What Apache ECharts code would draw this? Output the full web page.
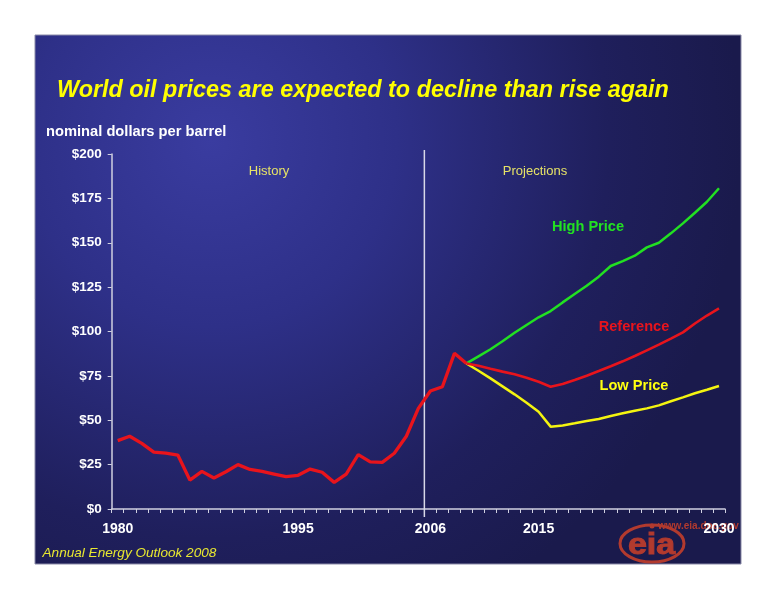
<!DOCTYPE html>
<html>
<head>
<meta charset="utf-8">
<script src="https://cdn.jsdelivr.net/npm/echarts@6/dist/echarts.min.js"></script>
<style>
html,body{margin:0;padding:0;background:#ffffff;}
#chart{width:776px;height:600px;}
</style>
</head>
<body>
<div id="chart"></div>
<script>
const years = ['1980','1981','1982','1983','1984','1985','1986','1987','1988','1989',
  '1990','1991','1992','1993','1994','1995','1996','1997','1998','1999',
  '2000','2001','2002','2003','2004','2005','2006','2007','2008','2009',
  '2010','2011','2012','2013','2014','2015','2016','2017','2018','2019',
  '2020','2021','2022','2023','2024','2025','2026','2027','2028','2029','2030'];
const shownLabels = ['1980','1995','2006','2015','2030'];
// History 1980-2009
const history = [38.5, 41, 37, 32, 31.5, 30.4, 16.3, 21.2, 17.5, 21, 25, 22.3, 21.2, 19.7, 18.2, 19,
  22.5, 20.7, 15, 19.7, 30.6, 26.5, 26.3, 31.4, 41, 56.7, 66.5, 68.9, 87.7, 82];
// Projections 2009-2030
const reference = [82, 80.7, 79, 77.4, 75.9, 74, 71.7, 68.9, 70.4, 72.7, 75.1, 77.7, 80.4, 83.2,
  86.2, 89.4, 92.6, 96, 99.5, 104.5, 109, 113];
const highPrice = [82, 86, 90, 94.5, 99.3, 103.7, 108, 111.5, 116.4, 121.1, 125.8, 130.9, 136.9,
  139.7, 142.7, 147.4, 150, 155.3, 160.9, 166.9, 173.1, 180.7];
const lowPrice = [82, 77.9, 73.6, 69.1, 64.6, 59.9, 54.8, 46.4, 47.1, 48.3, 49.6, 50.7, 52.4,
  53.9, 55.4, 56.7, 58.4, 60.7, 62.9, 65.2, 67.2, 69.3];
const projStart = '2009';

function alignHist(arr) {
  return years.map((y, i) => i < arr.length ? arr[i] : null);
}
function alignProj(arr) {
  const s = years.indexOf(projStart);
  return years.map((y, i) => (i >= s && i - s < arr.length) ? arr[i - s] : null);
}

const chart = echarts.init(document.getElementById('chart'), null, {renderer: 'canvas'});
const FONT = '"Liberation Sans", Arial, sans-serif';
const LOGO = '#b23a2e';
const option = {
  animation: false,
  backgroundColor: '#ffffff',
  textStyle: {fontFamily: FONT},
  grid: {left: 111.7, right: 51, top: 154, bottom: 91, containLabel: false},
  graphic: [
    {id: 'bg', type: 'rect', z: -10, shape: {x: 35, y: 35, width: 706, height: 529},
      style: {
        fill: new echarts.graphic.RadialGradient(0.25, 0.2, 1.0, [
          {offset: 0, color: '#3a3ca0'},
          {offset: 0.35, color: '#2e3088'},
          {offset: 0.75, color: '#1f1f5c'},
          {offset: 1, color: '#1a1a4c'}
        ]),
        stroke: '#8a8aa8', lineWidth: 1
      }},
    {id: 'title', type: 'text', x: 57, y: 91, z: 5,
      style: {text: 'World oil prices are expected to decline than rise again', fill: '#ffff00',
        font: 'italic bold 23.4px ' + FONT, verticalAlign: 'middle'}},
    {id: 'ylab', type: 'text', x: 46, y: 132, z: 5,
      style: {text: 'nominal dollars per barrel', fill: '#ffffff', font: 'bold 14.7px ' + FONT, verticalAlign: 'middle'}},
    {id: 'hist', type: 'text', x: 269, y: 171, z: 5,
      style: {text: 'History', fill: '#e6e266', font: '13px ' + FONT, align: 'center', verticalAlign: 'middle'}},
    {id: 'proj', type: 'text', x: 535, y: 171, z: 5,
      style: {text: 'Projections', fill: '#e6e266', font: '13px ' + FONT, align: 'center', verticalAlign: 'middle'}},
    {id: 'lhigh', type: 'text', x: 588, y: 227, z: 5,
      style: {text: 'High Price', fill: '#22e022', font: 'bold 14.6px ' + FONT, align: 'center', verticalAlign: 'middle'}},
    {id: 'lref', type: 'text', x: 634, y: 326.5, z: 5,
      style: {text: 'Reference', fill: '#e8141c', font: 'bold 14.6px ' + FONT, align: 'center', verticalAlign: 'middle'}},
    {id: 'llow', type: 'text', x: 634, y: 386, z: 5,
      style: {text: 'Low Price', fill: '#ffff10', font: 'bold 14.6px ' + FONT, align: 'center', verticalAlign: 'middle'}},
    {id: 'aeo', type: 'text', x: 42.5, y: 553, z: 5,
      style: {text: 'Annual Energy Outlook 2008', fill: '#e8e830', font: 'italic 13.6px ' + FONT, verticalAlign: 'middle'}},
    {id: 'logoRing', type: 'ellipse', z: -5, shape: {cx: 652, cy: 543.5, rx: 32, ry: 18.5},
      style: {fill: 'none', stroke: LOGO, lineWidth: 3}},
    {id: 'logoText', type: 'text', x: 651.5, y: 545.5, z: -5, scaleX: 1.17, scaleY: 1,
      style: {text: 'eia', fill: LOGO, stroke: LOGO, lineWidth: 1, font: 'bold 29px ' + FONT,
        align: 'center', verticalAlign: 'middle'}},
    {id: 'logoDot', type: 'circle', z: -5, shape: {cx: 652, cy: 526, r: 2.5}, style: {fill: LOGO}},
    {id: 'logoUrl', type: 'text', x: 658, y: 526.5, z: -5,
      style: {text: 'www.eia.doe.gov', fill: LOGO, font: 'bold 10px ' + FONT, verticalAlign: 'middle'}}
  ],
  xAxis: {
    type: 'category',
    data: years,
    boundaryGap: true,
    axisLine: {lineStyle: {color: '#d0d0e0', width: 1.5}},
    axisTick: {show: true, interval: 0, length: 4, lineStyle: {color: '#d0d0e0', width: 1}},
    axisLabel: {
      interval: (idx, val) => shownLabels.indexOf(val) >= 0,
      color: '#ffffff', fontWeight: 'bold', fontSize: 14, fontFamily: FONT, margin: 13
    },
    splitLine: {show: false}
  },
  yAxis: {
    type: 'value', min: 0, max: 200, interval: 25,
    axisLine: {show: true, lineStyle: {color: '#d0d0e0', width: 1.5}},
    axisTick: {show: true, length: 4, lineStyle: {color: '#d0d0e0'}},
    axisLabel: {formatter: v => '$' + v, color: '#ffffff', fontWeight: 'bold', fontSize: 13.5,
      fontFamily: FONT, margin: 10},
    splitLine: {show: false}
  },
  series: [
    {name: 'High Price', type: 'line', data: alignProj(highPrice), showSymbol: false, symbol: 'none',
      lineStyle: {color: '#22e022', width: 2.5}, z: 3},
    {name: 'Low Price', type: 'line', data: alignProj(lowPrice), showSymbol: false, symbol: 'none',
      lineStyle: {color: '#f4f410', width: 2.5}, z: 3},
    {name: 'Reference', type: 'line', data: alignProj(reference), showSymbol: false, symbol: 'none',
      lineStyle: {color: '#e8141c', width: 2.6}, z: 4},
    {name: 'History', type: 'line', data: alignHist(history), showSymbol: false, symbol: 'none',
      lineStyle: {color: '#e8141c', width: 3.3}, z: 4}
  ]
};
chart.setOption(option);
const x05 = chart.convertToPixel({xAxisIndex: 0}, '2005');
const x06 = chart.convertToPixel({xAxisIndex: 0}, '2006');
const divX = (x05 + x06) / 2;
chart.setOption({graphic: [{id: 'divider', type: 'line', z: 1,
  shape: {x1: divX, y1: 150, x2: divX, y2: 517},
  style: {stroke: '#d8d8e8', lineWidth: 1.5}}]});
</script>
</body>
</html>
